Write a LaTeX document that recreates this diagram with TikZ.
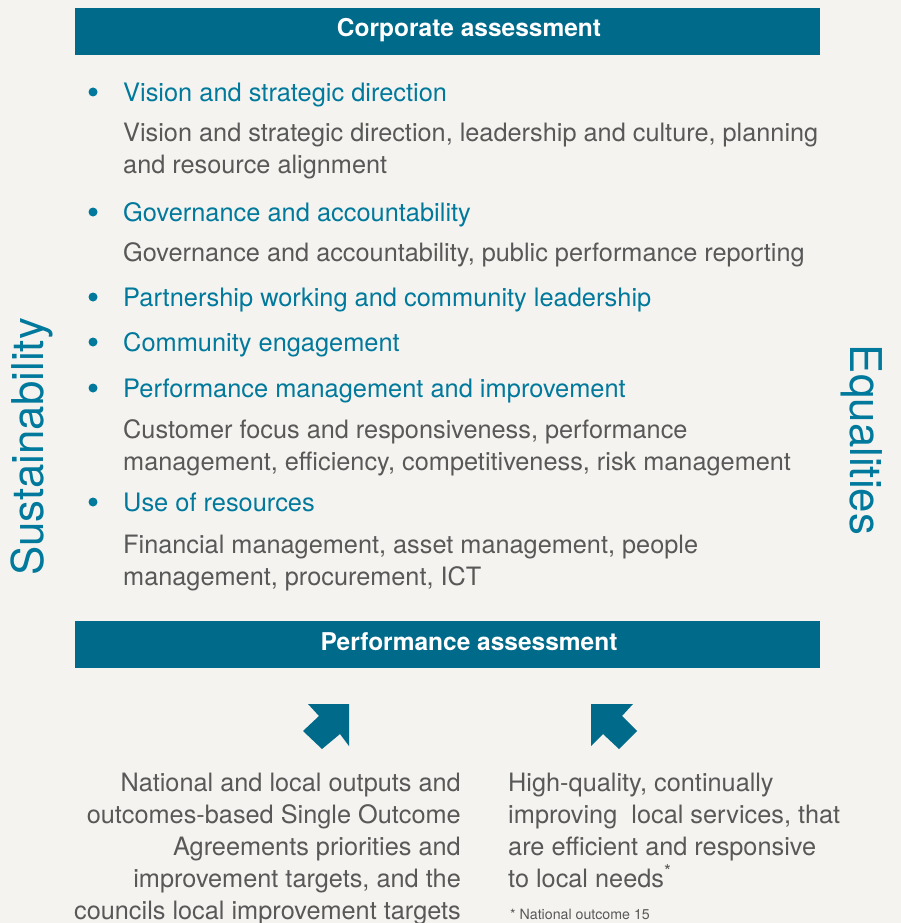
\documentclass[tikz,border=0pt]{standalone}
\usepackage{fontspec}
\setmainfont{TeX Gyre Heros}
\definecolor{pagebg}{RGB}{245,243,239}
\definecolor{bannerblue}{RGB}{0,106,138}
\definecolor{itemblue}{RGB}{0,121,156}
\definecolor{bodygrey}{RGB}{88,88,88}

\begin{document}
\begin{tikzpicture}[x=1pt, y=-1pt,
    banner/.style={fill=bannerblue, inner sep=0, minimum width=745, minimum height=47},
    headtext/.style={text=white, font=\fontsize{24.5}{28}\selectfont\bfseries, inner sep=0},
    itemtext/.style={text=itemblue, font=\fontsize{25.4}{32}\selectfont, anchor=base west, inner sep=0},
    bodytext/.style={text=bodygrey, font=\fontsize{25.3}{32}\selectfont, anchor=base west, align=left, inner sep=0},
    sidetext/.style={text=itemblue, font=\fontsize{43.8}{50}\selectfont, inner sep=0}]
\useasboundingbox[fill=pagebg] (0,0) rectangle (901,923);

% banners
\node[banner] (corpbar) at (447.5,31.5) {};
\node[headtext] (corp) at (469,30.5) {Corporate assessment};
\node[banner] (perfbar) at (447.5,644) {};
\node[headtext] (perf) at (469,642) {Performance assessment};

% side labels
\node[sidetext, rotate=90] (sust) at (32,447) {Sustainability};
\node[sidetext, rotate=-90] (equal) at (862,440) {Equalities};

% bullets
\foreach \y in {92,212,297,342,388,502}
    \fill[itemblue] (93,\y) circle (4.5);

% base = baseline of the last line
\node[itemtext] (vision) at (123,101.5) {Vision and strategic direction};
\node[bodytext] (visionbody) at (123,173.5) {Vision and strategic direction, leadership and culture, planning\\and resource alignment};
\node[itemtext] (gov) at (123,221.5) {Governance and accountability};
\node[bodytext] (govbody) at (123,261.5) {Governance and accountability, public performance reporting};
\node[itemtext] (partner) at (123,306.5) {Partnership working and community leadership};
\node[itemtext] (engage) at (123,351.5) {Community engagement};
\node[itemtext] (perfman) at (123,397.5) {Performance management and improvement};
\node[bodytext] (perfbody) at (123,470.5) {Customer focus and responsiveness, performance\\management, efficiency, competitiveness, risk management};
\node[itemtext] (resources) at (123,511.5) {Use of resources};
\node[bodytext] (resbody) at (123,585.5) {Financial management, asset management, people\\management, procurement, ICT};

% arrows
\fill[bannerblue] (308,704) -- (349,704) -- (349,746) -- (340,734) -- (322,749) -- (303,731) -- (319,716) -- cycle;
\fill[bannerblue] (591,704) -- (633,704) -- (622,716) -- (637,731) -- (619,749) -- (603,734) -- (591,746) -- cycle;

\node[bodytext, anchor=base east, align=right] (national) at (461,919) {National and local outputs and\\outcomes-based Single Outcome\\Agreements priorities and\\improvement targets, and the\\councils local improvement targets};
\node[bodytext] (quality) at (508,887) {High-quality, continually\\improving\ \ local services, that\\are efficient and responsive\\to local needs\textsuperscript{*}};
\node[text=bodygrey, font=\fontsize{14.2}{16}\selectfont, anchor=base west, inner sep=0] (foot) at (510,919) {* National outcome 15};
\end{tikzpicture}
\end{document}
